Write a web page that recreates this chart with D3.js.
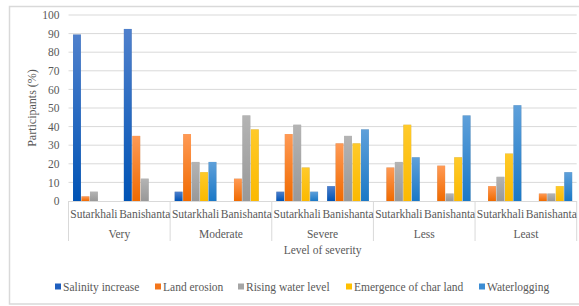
<!DOCTYPE html>
<html>
<head>
<meta charset="utf-8">
<script src="https://cdn.jsdelivr.net/npm/d3@7"></script>
</head>
<body style="margin:0; background:#fff">
<svg id="chart"></svg>
<script>
const WIDTH = 579;
const HEIGHT = 306;

// data
const levels = ["Very", "Moderate", "Severe", "Less", "Least"];
const sites = ["Sutarkhali", "Banishanta"];
const seriesNames = ["Salinity increase", "Land erosion", "Rising water level", "Emergence of char land", "Waterlogging"];
// one array per series, order: Very-S, Very-B, Moderate-S, Moderate-B, Severe-S, Severe-B, Less-S, Less-B, Least-S, Least-B
const salinity     = [89.5, 92.5, 5, 0, 5, 8, 0, 0, 0, 0];
const landErosion  = [2.5, 35, 36, 12, 36, 31, 18, 19, 8, 4];
const risingWater  = [5, 12, 21, 46, 41, 35, 21, 4, 13, 4];
const charLand     = [0, 0, 15.5, 38.5, 18, 31, 41, 23.5, 25.5, 8];
const waterlogging = [0, 0, 21, 0, 5, 38.5, 23.5, 46, 51.5, 15.5];
const yTicks = [0, 10, 20, 30, 40, 50, 60, 70, 80, 90, 100];

const seriesValues = [salinity, landErosion, risingWater, charLand, waterlogging];
// [top colour, bottom colour] of each bar gradient
const colors = [["#4f80cc", "#0053b5"], ["#ff9a55", "#f06a00"], ["#b4b4b4", "#989898"], ["#ffca2a", "#fbb900"], ["#5fa0da", "#1a78c6"]];
const legendColors = ["#1f5fbf", "#f4751a", "#a5a5a5", "#ffc000", "#3c8dd4"];

const PLOT_LEFT = 68.5;
const PLOT_RIGHT = 576.7;
const PLOT_TOP = 15;
const PLOT_BOTTOM = 201;
const TEXT_COLOR = "#595959";
const FONT = "Liberation Serif";
const FS = 11.5;

const svg = d3.select("#chart").attr("width", WIDTH).attr("height", HEIGHT)
  .attr("font-family", FONT);

// outer frame
svg.append("rect")
  .attr("x", 9.5).attr("y", 6.5)
  .attr("width", WIDTH + 10).attr("height", 297.5)
  .attr("fill", "none").attr("stroke", "#d9d9d9").attr("stroke-width", 1.5);

// gradients
const defs = svg.append("defs");
colors.forEach((c, i) => {
  const g = defs.append("linearGradient").attr("id", "grad" + i)
    .attr("x1", 0).attr("y1", 0).attr("x2", 0).attr("y2", 1);
  g.append("stop").attr("offset", "0%").attr("stop-color", c[0]);
  g.append("stop").attr("offset", "100%").attr("stop-color", c[1]);
});

// list of all 10 sub categories
const cats = [];
levels.forEach(l => sites.forEach(s => cats.push(l + "|" + s)));

const x0 = d3.scaleBand().domain(cats).range([PLOT_LEFT, PLOT_RIGHT]).paddingInner(0).paddingOuter(0);
const xl = d3.scaleBand().domain(levels).range([PLOT_LEFT, PLOT_RIGHT]);
const x1 = d3.scaleBand().domain(d3.range(seriesNames.length))
  .range([0, x0.bandwidth()]).paddingInner(0).paddingOuter(0.5);
const y = d3.scaleLinear().domain([0, 100]).range([PLOT_BOTTOM, PLOT_TOP]);

// gridlines
svg.append("g").selectAll("line")
  .data(yTicks.filter(t => t > 0))
  .enter().append("line")
  .attr("x1", PLOT_LEFT).attr("x2", PLOT_RIGHT)
  .attr("y1", d => y(d)).attr("y2", d => y(d))
  .attr("stroke", "#d9d9d9").attr("stroke-width", 1);

// y axis labels
const yAxis = d3.axisLeft(y).tickValues(yTicks).tickSize(0).tickPadding(9);
const yg = svg.append("g").attr("transform", "translate(" + PLOT_LEFT + ",0)").call(yAxis)
  .attr("font-family", FONT).attr("font-size", FS);
yg.select(".domain").remove();
yg.selectAll("text").attr("fill", TEXT_COLOR);

// bars
const barData = [];
seriesValues.forEach((vals, si) => vals.forEach((v, ci) => barData.push({ s: si, c: cats[ci], v: v })));

svg.append("g").selectAll("rect")
  .data(barData.filter(d => d.v > 0))
  .enter().append("rect")
  .attr("x", d => x0(d.c) + x1(d.s) + 0.3)
  .attr("y", d => y(d.v))
  .attr("width", x1.bandwidth() - 0.6)
  .attr("height", d => y(0) - y(d.v))
  .attr("fill", d => "url(#grad" + d.s + ")")
  .style("filter", "drop-shadow(0.6px 0.6px 0.6px rgba(0,0,0,0.25))");

// x axis line
svg.append("line")
  .attr("x1", PLOT_LEFT).attr("x2", PLOT_RIGHT)
  .attr("y1", PLOT_BOTTOM + 0.5).attr("y2", PLOT_BOTTOM + 0.5)
  .attr("stroke", "#d9d9d9").attr("stroke-width", 1);

// group separators
const seps = levels.map(l => xl(l)).concat([PLOT_RIGHT]);
svg.append("g").selectAll("line")
  .data(seps).enter().append("line")
  .attr("x1", d => d).attr("x2", d => d)
  .attr("y1", PLOT_BOTTOM).attr("y2", 241)
  .attr("stroke", "#d9d9d9").attr("stroke-width", 1);

// site labels
svg.append("g").selectAll("text")
  .data(cats).enter().append("text")
  .attr("x", d => x0(d) + x0.bandwidth() / 2)
  .attr("y", 218)
  .attr("text-anchor", "middle")
  .attr("font-family", FONT).attr("font-size", FS)
  .attr("fill", TEXT_COLOR)
  .text(d => d.split("|")[1]);

// level labels
svg.append("g").selectAll("text")
  .data(levels).enter().append("text")
  .attr("x", d => xl(d) + xl.bandwidth() / 2)
  .attr("y", 238)
  .attr("text-anchor", "middle")
  .attr("font-family", FONT).attr("font-size", FS)
  .attr("fill", TEXT_COLOR)
  .text(d => d);

// axis titles
svg.append("text")
  .attr("x", (PLOT_LEFT + PLOT_RIGHT) / 2).attr("y", 254)
  .attr("text-anchor", "middle")
  .attr("font-family", FONT).attr("font-size", FS)
  .attr("fill", TEXT_COLOR)
  .text("Level of severity");

svg.append("text")
  .attr("transform", "translate(36,108) rotate(-90)")
  .attr("text-anchor", "middle")
  .attr("font-family", FONT).attr("font-size", 12)
  .attr("fill", TEXT_COLOR)
  .text("Participants (%)");

// legend
const legendX = [55, 155, 238, 346, 479];
const lg = svg.append("g").selectAll("g")
  .data(seriesNames).enter().append("g")
  .attr("transform", (d, i) => "translate(" + legendX[i] + ",287)");
lg.append("rect")
  .attr("x", 0).attr("y", -3.5).attr("width", 6).attr("height", 6)
  .attr("fill", (d, i) => legendColors[i]);
lg.append("text")
  .attr("x", 8).attr("y", 4)
  .attr("font-family", FONT).attr("font-size", FS)
  .attr("fill", TEXT_COLOR)
  .text(d => d);
</script>
</body>
</html>
